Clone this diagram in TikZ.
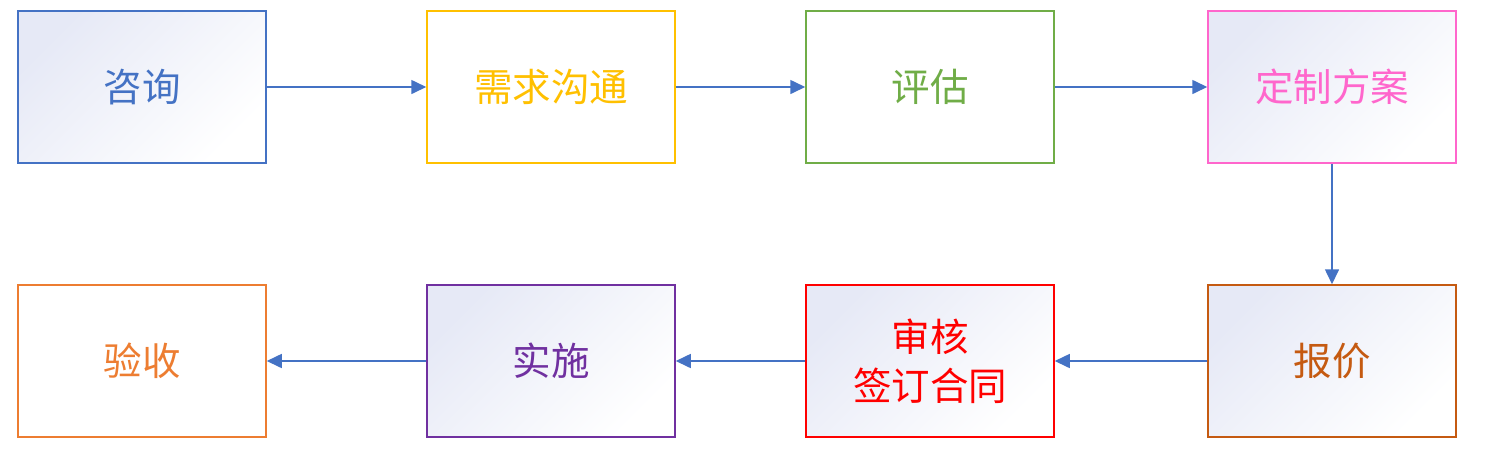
\documentclass[tikz,border=0pt]{standalone}
\usepackage{fontspec}
\newfontfamily\cjk{Noto Sans CJK SC}
\usetikzlibrary{arrows.meta}
\definecolor{cblue}{HTML}{4472C4}
\definecolor{cgold}{HTML}{FFC000}
\definecolor{cgreen}{HTML}{70AD47}
\definecolor{cpink}{HTML}{FF66CC}
\definecolor{cbrown}{HTML}{C55A11}
\definecolor{cred}{HTML}{FF0000}
\definecolor{cpurple}{HTML}{7030A0}
\definecolor{corange}{HTML}{ED7D31}
\definecolor{lav}{HTML}{E6E9F6}
\begin{document}
\begin{tikzpicture}[x=1pt,y=-1pt,
  box/.style={draw=#1, line width=1.5pt, minimum width=248pt, minimum height=152pt,
    inner sep=0pt, text=#1, font=\cjk\fontsize{38.5}{49}\selectfont, align=center},
  grad/.style={top color=lav, bottom color=white, shading angle=45},
  conn/.style={draw=cblue, line width=1.6pt, -{Triangle[length=15pt,width=14pt]}}]
\useasboundingbox (0,0) rectangle (1501,475);
\node[box=cblue, grad] (a) at (142,87) {咨询};
\node[box=cgold, fill=white] (b) at (551,87) {需求沟通};
\node[box=cgreen, fill=white] (c) at (930,87) {评估};
\node[box=cpink, grad] (d) at (1332,87) {定制方案};
\node[box=cbrown, grad] (e) at (1332,361) {报价};
\node[box=cred, grad] (f) at (930,361) {审核\\签订合同};
\node[box=cpurple, grad] (g) at (551,361) {实施};
\node[box=corange, fill=white] (h) at (142,361) {验收};
\draw[conn] (a) -- (b);
\draw[conn] (b) -- (c);
\draw[conn] (c) -- (d);
\draw[conn] (d) -- (e);
\draw[conn] (e) -- (f);
\draw[conn] (f) -- (g);
\draw[conn] (g) -- (h);
\end{tikzpicture}
\end{document}
